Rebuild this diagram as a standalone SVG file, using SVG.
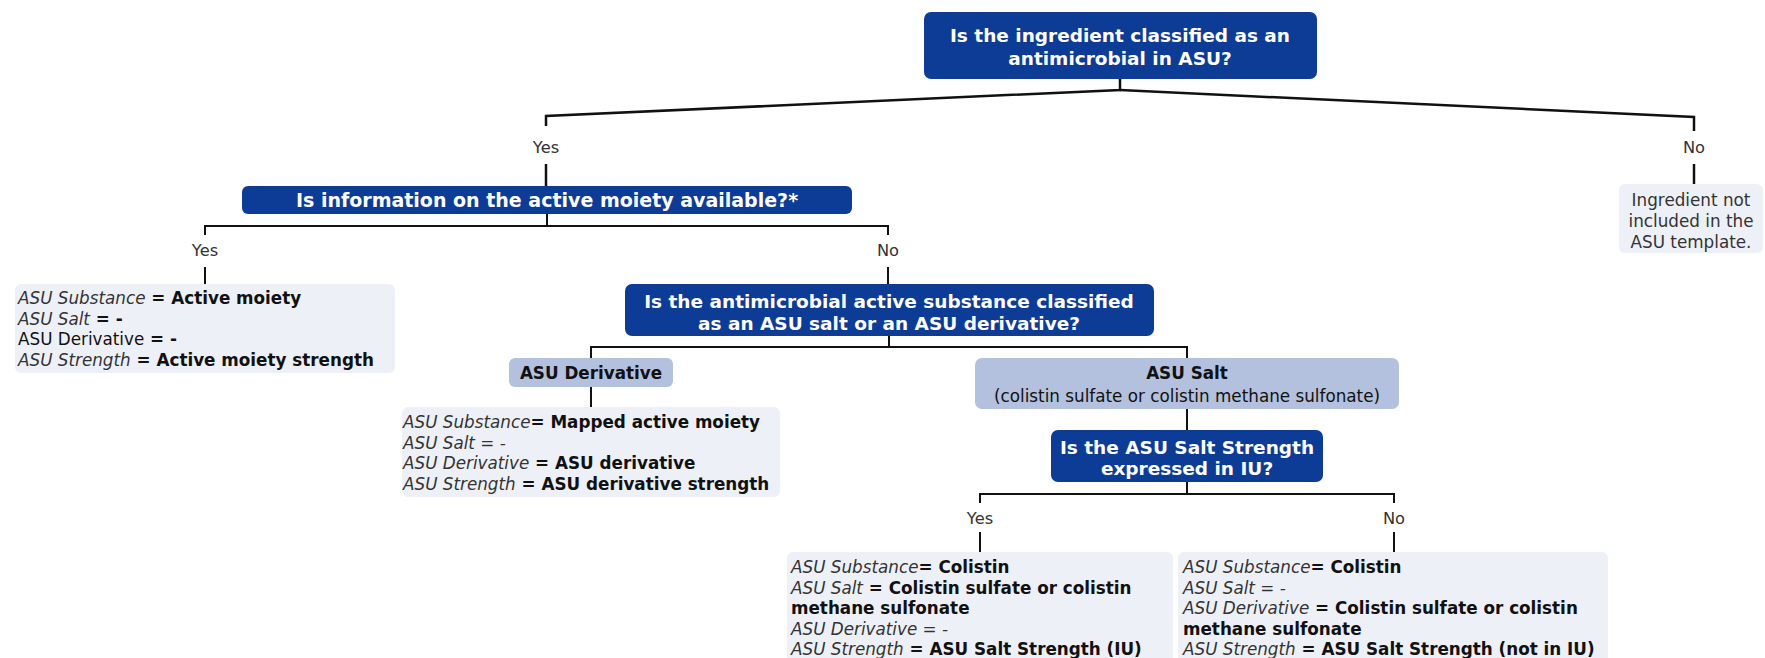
<svg xmlns="http://www.w3.org/2000/svg" width="1765" height="658" viewBox="0 0 1765 658">
<style>
text{font-family:"DejaVu Sans",Verdana,sans-serif}
.qbox{fill:#0c3c96}
.rbox{fill:#eef0f8}
.cbox{fill:#b3c0de}
.q{font-weight:bold;font-size:18.5px;fill:#fff;text-anchor:middle}
.c{font-size:16.8px;fill:#111;text-anchor:middle}
.r{font-size:16.8px;fill:#111}
.i{font-style:italic;fill:#333}
.b{font-weight:bold;fill:#111}
.lbl{font-size:16.3px;fill:#333;text-anchor:middle}
.conn{stroke:#111;stroke-width:2;fill:none}
.conn2{stroke:#111;stroke-width:2.5;fill:none}
</style>
<g id="connectors">
<path class="conn2" d="M1120,79 V90 L546,116 V126 M546,164 V186"/>
<path class="conn2" d="M1120,90 L1694,117 V131 M1694,164 V184"/>
<path class="conn" d="M547,214 V226 M205,235 V226 H888 V235 M205,267 V284 M888,267 V284"/>
<path class="conn" d="M889,336 V347 M591,358 V347 H1187 V358 M591,387 V407"/>
<path class="conn" d="M1187,409 V430 M1187,482 V494 M980,503 V494 H1394 V503 M980,532 V552 M1394,532 V552"/>
<text class="lbl" x="546" y="153">Yes</text>
<text class="lbl" x="1694" y="153">No</text>
<text class="lbl" x="205" y="256">Yes</text>
<text class="lbl" x="888" y="256">No</text>
<text class="lbl" x="980" y="524">Yes</text>
<text class="lbl" x="1394" y="524">No</text>
</g>
<g id="q1">
<rect class="qbox" x="924" y="12" width="393" height="67" rx="7"/>
<text class="q" x="1120" y="41.5">Is the ingredient classified as an</text>
<text class="q" x="1120" y="64.5">antimicrobial in ASU?</text>
</g>
<g id="notIncluded">
<rect class="rbox" x="1619" y="184" width="144" height="69" rx="6"/>
<text class="lbl" style="font-size:16.8px" x="1691" y="206">Ingredient not</text>
<text class="lbl" style="font-size:16.8px" x="1691" y="227">included in the</text>
<text class="lbl" style="font-size:16.8px" x="1691" y="248">ASU template.</text>
</g>
<g id="q2">
<rect class="qbox" x="242" y="186" width="610" height="28" rx="6"/>
<text class="q" style="font-size:19px" x="547" y="206.5">Is information on the active moiety available?*</text>
</g>
<g id="activeMoiety">
<rect class="rbox" x="15" y="284" width="380" height="89" rx="6"/>
<text class="r" x="18" y="304"><tspan class="i">ASU Substance</tspan><tspan class="b"> = Active moiety</tspan></text>
<text class="r" x="18" y="324.5"><tspan class="i">ASU Salt</tspan><tspan class="b"> = -</tspan></text>
<text class="r" x="18" y="345"><tspan>ASU Derivative</tspan><tspan class="b"> = -</tspan></text>
<text class="r" x="18" y="365.5"><tspan class="i">ASU Strength</tspan><tspan class="b"> = Active moiety strength</tspan></text>
</g>
<g id="q3">
<rect class="qbox" x="625" y="284" width="529" height="52" rx="7"/>
<text class="q" x="889" y="307.5">Is the antimicrobial active substance classified</text>
<text class="q" x="889" y="329.5">as an ASU salt or an ASU derivative?</text>
</g>
<g id="asuDerivative">
<rect class="cbox" x="509" y="358" width="164" height="29" rx="6"/>
<text class="c b" x="591" y="379">ASU Derivative</text>
</g>
<g id="derivativeResult">
<rect class="rbox" x="402" y="407" width="378" height="90" rx="6"/>
<text class="r" x="403" y="428"><tspan class="i">ASU Substance</tspan><tspan class="b">= Mapped active moiety</tspan></text>
<text class="r" x="403" y="448.5"><tspan class="i">ASU Salt = -</tspan></text>
<text class="r" x="403" y="469"><tspan class="i">ASU Derivative</tspan><tspan class="b"> = ASU derivative</tspan></text>
<text class="r" x="403" y="489.5"><tspan class="i">ASU Strength</tspan><tspan class="b"> = ASU derivative strength</tspan></text>
</g>
<g id="asuSalt">
<rect class="cbox" x="975" y="358" width="424" height="51" rx="7"/>
<text class="c b" x="1187" y="379">ASU Salt</text>
<text class="c" x="1187" y="402">(colistin sulfate or colistin methane sulfonate)</text>
</g>
<g id="q4">
<rect class="qbox" x="1051" y="430" width="272" height="52" rx="7"/>
<text class="q" x="1187" y="453.5">Is the ASU Salt Strength</text>
<text class="q" x="1187" y="474.5">expressed in IU?</text>
</g>
<g id="iuYes">
<rect class="rbox" x="787" y="552" width="386" height="116" rx="6"/>
<text class="r" x="791" y="573"><tspan class="i">ASU Substance</tspan><tspan class="b">= Colistin</tspan></text>
<text class="r" x="791" y="593.5"><tspan class="i">ASU Salt</tspan><tspan class="b"> = Colistin sulfate or colistin</tspan></text>
<text class="r" x="791" y="614"><tspan class="b">methane sulfonate</tspan></text>
<text class="r" x="791" y="634.5"><tspan class="i">ASU Derivative = -</tspan></text>
<text class="r" x="791" y="655"><tspan class="i">ASU Strength</tspan><tspan class="b"> = ASU Salt Strength (IU)</tspan></text>
</g>
<g id="iuNo">
<rect class="rbox" x="1178" y="552" width="430" height="116" rx="6"/>
<text class="r" x="1183" y="573"><tspan class="i">ASU Substance</tspan><tspan class="b">= Colistin</tspan></text>
<text class="r" x="1183" y="593.5"><tspan class="i">ASU Salt = -</tspan></text>
<text class="r" x="1183" y="614"><tspan class="i">ASU Derivative</tspan><tspan class="b"> = Colistin sulfate or colistin</tspan></text>
<text class="r" x="1183" y="634.5"><tspan class="b">methane sulfonate</tspan></text>
<text class="r" x="1183" y="655"><tspan class="i">ASU Strength</tspan><tspan class="b"> = ASU Salt Strength (not in IU)</tspan></text>
</g>
</svg>
